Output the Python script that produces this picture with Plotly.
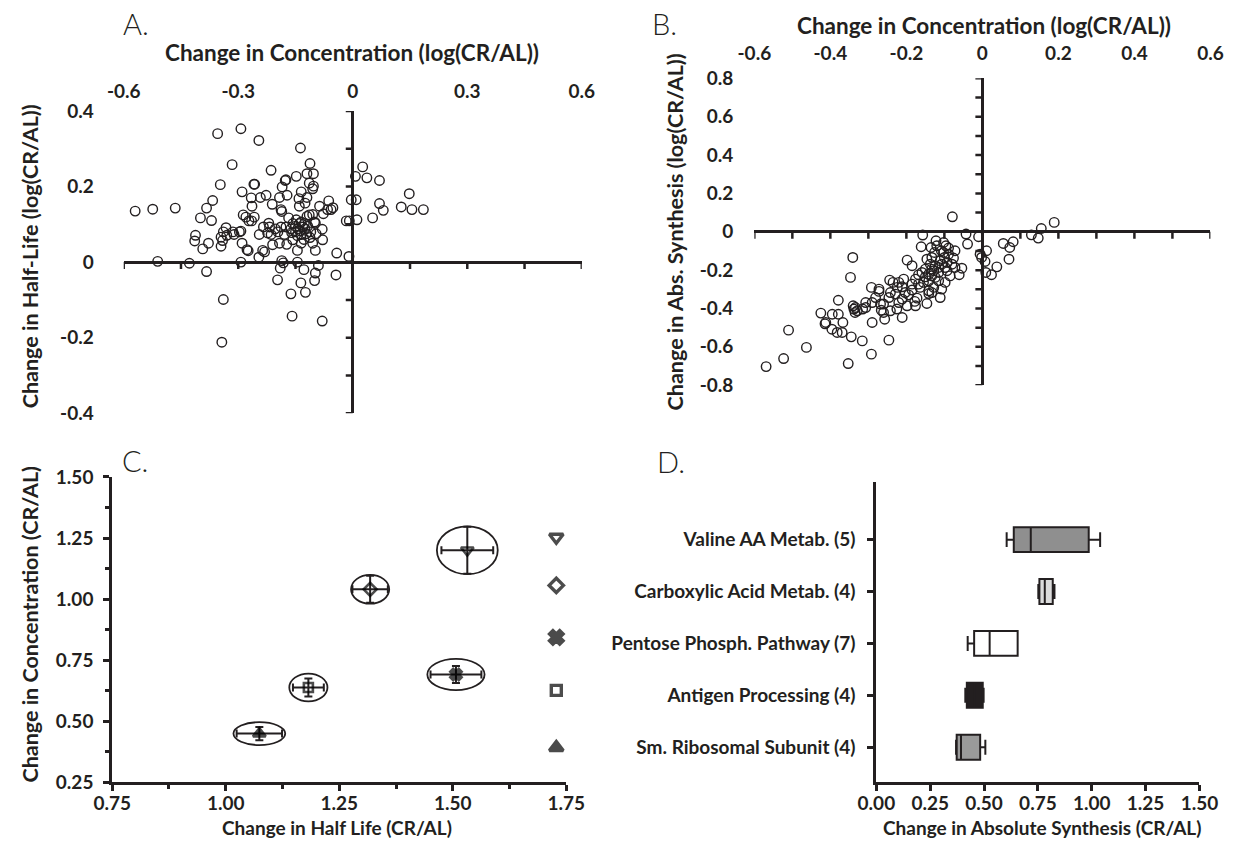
import plotly.graph_objects as go

# ---------------- DATA ----------------
# Panel A: change in concentration vs change in half-life (log CR/AL)
A_conc = [
    -0.354, -0.293, -0.246, -0.137, -0.316, -0.214, -0.112, -0.148, -0.120, -0.103,
    -0.177, -0.175, -0.259, -0.257, -0.347, -0.185, -0.114, -0.103, -0.105, -0.290,
    -0.135, -0.227, -0.172, -0.266, -0.242, -0.192, -0.141, -0.120, -0.367, -0.063,
    -0.004, 0.009, -0.211, -0.140, -0.125, -0.264, -0.087, -0.383, -0.465, -0.524,
    -0.570, -0.188, -0.186, -0.066, -0.052, -0.057, 0.070, 0.080, 0.127, 0.148,
    0.155, 0.185, 0.026, 0.007, 0.037, 0.070, -0.399, -0.370, -0.287, -0.280,
    -0.258, -0.272, -0.265, -0.168, -0.148, -0.135, -0.120, -0.114, -0.105, -0.100,
    -0.077, -0.017, -0.009, 0.011, 0.052, -0.157, -0.140, -0.127, -0.162, -0.144,
    -0.131, -0.118, -0.175, -0.150, -0.135, -0.122, -0.098, -0.080, -0.096, -0.188,
    -0.196, -0.179, -0.203, -0.218, -0.234, -0.220, -0.223, -0.214, -0.245, -0.210,
    -0.192, -0.173, -0.157, -0.135, -0.105, -0.079, -0.145, -0.098, -0.042, -0.010,
    -0.236, -0.231, -0.246, -0.277, -0.274, -0.290, -0.293, -0.297, -0.314, -0.332,
    -0.339, -0.330, -0.345, -0.341, -0.345, -0.311, -0.412, -0.414, -0.393, -0.378,
    -0.150, -0.138, -0.125, -0.110, -0.145, -0.160, -0.112, -0.128, -0.511, -0.428,
    -0.293, -0.186, -0.182, -0.145, -0.090, -0.383, -0.190, -0.128, -0.197, -0.136,
    -0.098, -0.100, -0.044, -0.162, -0.124, -0.339, -0.159, -0.080, -0.343,
]
A_halflife = [
    0.340, 0.353, 0.322, 0.302, 0.258, 0.243, 0.261, 0.227, 0.234, 0.234,
    0.216, 0.218, 0.206, 0.206, 0.205, 0.199, 0.209, 0.201, 0.194, 0.186,
    0.186, 0.177, 0.177, 0.170, 0.171, 0.171, 0.168, 0.171, 0.163, 0.162,
    0.165, 0.165, 0.153, 0.148, 0.156, 0.148, 0.148, 0.143, 0.143, 0.140,
    0.135, 0.139, 0.134, 0.139, 0.144, 0.139, 0.155, 0.137, 0.146, 0.181,
    0.139, 0.139, 0.252, 0.227, 0.223, 0.216, 0.117, 0.110, 0.125, 0.119,
    0.119, 0.109, 0.109, 0.117, 0.112, 0.106, 0.121, 0.125, 0.126, 0.106,
    0.128, 0.109, 0.109, 0.112, 0.117, 0.102, 0.102, 0.102, 0.088, 0.088,
    0.093, 0.095, 0.093, 0.080, 0.073, 0.075, 0.103, 0.087, 0.075, 0.093,
    0.080, 0.073, 0.088, 0.093, 0.093, 0.103, 0.077, 0.073, 0.073, 0.046,
    0.050, 0.047, 0.059, 0.050, 0.050, 0.059, 0.031, 0.031, 0.024, 0.015,
    0.031, 0.027, 0.013, 0.033, 0.030, 0.050, 0.082, 0.080, 0.080, 0.091,
    0.080, 0.071, 0.066, 0.057, 0.042, 0.073, 0.071, 0.056, 0.035, 0.050,
    0.095, 0.083, 0.088, 0.080, 0.070, 0.078, 0.065, 0.060, 0.002, -0.003,
    0.000, 0.004, -0.002, 0.000, -0.009, -0.025, -0.016, -0.020, -0.047, -0.055,
    -0.029, -0.049, -0.034, -0.084, -0.080, -0.099, -0.143, -0.156, -0.212,
]

# Panel B: change in concentration vs change in absolute synthesis (log CR/AL)
B_conc = [
    -0.079, 0.189, 0.155, 0.129, 0.147, 0.055, 0.081, 0.072, 0.070, 0.038,
    0.024, 0.009, 0.011, -0.006, -0.002, 0.007, -0.010, -0.043, -0.039, -0.157,
    -0.161, -0.135, -0.122, -0.102, -0.096, -0.089, -0.126, -0.100, -0.076, -0.146,
    -0.198, -0.185, -0.080, -0.098, -0.054, -0.061, -0.085, -0.115, -0.133, -0.150,
    -0.168, -0.133, -0.141, -0.115, -0.098, -0.176, -0.185, -0.207, -0.220, -0.244,
    -0.235, -0.211, -0.185, -0.164, -0.141, -0.128, -0.107, -0.111, -0.133, -0.141,
    -0.242, -0.229, -0.211, -0.198, -0.176, -0.172, -0.146, -0.292, -0.272, -0.281,
    -0.290, -0.272, -0.268, -0.260, -0.266, -0.260, -0.257, -0.242, -0.225, -0.211,
    -0.290, -0.307, -0.315, -0.329, -0.340, -0.338, -0.335, -0.347, -0.341, -0.379,
    -0.379, -0.395, -0.425, -0.412, -0.414, -0.396, -0.369, -0.382, -0.367, -0.345,
    -0.316, -0.246, -0.292, -0.353, -0.463, -0.510, -0.523, -0.569, -0.159, -0.150,
    -0.137, -0.124, -0.115, -0.124, -0.141, -0.155, -0.168, -0.128, -0.107, -0.093,
    -0.072, -0.111, -0.133, -0.102, -0.089, -0.072, -0.120, -0.108, -0.093, -0.224,
    -0.203, -0.194, -0.178, -0.220, -0.246, -0.307, -0.334,
]
B_synthesis = [
    0.078, 0.049, 0.017, -0.016, -0.033, -0.061, -0.052, -0.082, -0.143, -0.183,
    -0.224, -0.212, -0.099, -0.117, -0.134, -0.155, -0.026, -0.012, -0.064, -0.017,
    -0.078, -0.082, -0.047, -0.056, -0.073, -0.085, -0.108, -0.134, -0.137, -0.143,
    -0.148, -0.177, -0.169, -0.186, -0.190, -0.224, -0.230, -0.212, -0.230, -0.235,
    -0.224, -0.195, -0.256, -0.256, -0.264, -0.247, -0.273, -0.247, -0.264, -0.252,
    -0.264, -0.287, -0.304, -0.290, -0.308, -0.290, -0.299, -0.343, -0.317, -0.322,
    -0.317, -0.325, -0.351, -0.386, -0.386, -0.346, -0.374, -0.290, -0.299, -0.343,
    -0.369, -0.311, -0.377, -0.377, -0.409, -0.421, -0.456, -0.412, -0.403, -0.447,
    -0.473, -0.395, -0.403, -0.412, -0.386, -0.403, -0.421, -0.238, -0.134, -0.357,
    -0.430, -0.430, -0.424, -0.473, -0.480, -0.508, -0.525, -0.525, -0.473, -0.548,
    -0.569, -0.565, -0.638, -0.687, -0.603, -0.513, -0.661, -0.703, -0.212, -0.195,
    -0.169, -0.177, -0.186, -0.238, -0.221, -0.264, -0.273, -0.203, -0.169, -0.203,
    -0.186, -0.151, -0.134, -0.108, -0.117, -0.099, -0.073, -0.099, -0.160, -0.290,
    -0.317, -0.329, -0.363, -0.369, -0.343, -0.369, -0.395,
]

# Panel C: mean change in half-life vs concentration (CR/AL) with SE and ellipses
C_halflife = [1.532, 1.318, 1.507, 1.182, 1.074]
C_conc = [1.200, 1.040, 0.691, 0.638, 0.449]
C_halflife_err = [0.057, 0.039, 0.056, 0.034, 0.050]
C_conc_err = [0.096, 0.055, 0.035, 0.037, 0.027]
C_ellipse_rx = [0.067, 0.042, 0.063, 0.042, 0.057]
C_ellipse_ry = [0.098, 0.059, 0.064, 0.057, 0.047]
C_symbols = ['triangle-down-open', 'diamond-open', 'x', 'square-open', 'triangle-up']
C_key_x = 1.728
C_key_y = [1.253, 1.056, 0.843, 0.626, 0.392]

# Panel D: change in absolute synthesis (CR/AL) per pathway
D_categories = ['Valine AA Metab. (5)', 'Carboxylic Acid Metab. (4)',
                'Pentose Phosph. Pathway (7)', 'Antigen Processing (4)',
                'Sm. Ribosomal Subunit (4)']
D_low = [0.605, 0.752, 0.424, 0.413, 0.370]
D_q1 = [0.638, 0.757, 0.454, 0.420, 0.373]
D_median = [0.717, 0.782, 0.526, 0.455, 0.393]
D_q3 = [0.986, 0.819, 0.656, 0.494, 0.482]
D_high = [1.039, 0.827, 0.656, 0.498, 0.506]
D_fill = ['#8f8f8f', '#dcdcdc', '#ffffff', '#231f20', '#9a9a9a']

# tick values / labels
A_xtick_vals = [-0.6, -0.3, 0, 0.3, 0.6]
A_xtick_text = ['-0.6', '-0.3', '0', '0.3', '0.6']
A_xtick_marks = [-0.6, -0.45, -0.3, -0.15, 0.15, 0.3, 0.45, 0.6]
A_ytick_vals = [-0.4, -0.2, 0, 0.2, 0.4]
A_ytick_text = ['-0.4', '-0.2', '0', '0.2', '0.4']
A_ytick_marks = [-0.4, -0.3, -0.2, -0.1, 0.1, 0.2, 0.3, 0.4]
B_xtick_vals = [-0.6, -0.4, -0.2, 0, 0.2, 0.4, 0.6]
B_xtick_text = ['-0.6', '-0.4', '-0.2', '0', '0.2', '0.4', '0.6']
B_xtick_marks = [-0.6, -0.5, -0.4, -0.3, -0.2, -0.1, 0.1, 0.2, 0.3, 0.4, 0.5, 0.6]
B_ytick_vals = [-0.8, -0.6, -0.4, -0.2, 0, 0.2, 0.4, 0.6, 0.8]
B_ytick_text = ['-0.8', '-0.6', '-0.4', '-0.2', '0', '0.2', '0.4', '0.6', '0.8']
B_ytick_marks = [-0.8, -0.7, -0.6, -0.5, -0.4, -0.3, -0.2, -0.1,
                 0.1, 0.2, 0.3, 0.4, 0.5, 0.6, 0.7, 0.8]
C_xtick_vals = [0.75, 1.00, 1.25, 1.50, 1.75]
C_xtick_text = ['0.75', '1.00', '1.25', '1.50', '1.75']
C_ytick_vals = [0.25, 0.50, 0.75, 1.00, 1.25, 1.50]
C_ytick_text = ['0.25', '0.50', '0.75', '1.00', '1.25', '1.50']
D_xtick_vals = [0, 0.25, 0.5, 0.75, 1.0, 1.25, 1.5]
D_xtick_text = ['0.00', '0.25', '0.50', '0.75', '1.00', '1.25', '1.50']

assert len(A_conc) == len(A_halflife)
assert len(B_conc) == len(B_synthesis)

# ---------------- LAYOUT HELPERS ----------------
W, H = 1233, 845
# the photographed page appears slightly scaled/offset; map target pixel positions
SX, OX = 0.969, 19.8
SY, OY = 0.972, 12.1


def fx(p):
    return ((p - OX) / SX) / W


def fy(p):
    return 1 - ((p - OY) / SY) / H


INK = '#231f20'
FONT = 'Lato, Carlito, Calibri, sans-serif'
tick_font = dict(family=FONT, size=19, color=INK, weight='bold')
cat_font = dict(family=FONT, size=19, color=INK, weight='bold')
title_font = dict(family=FONT, size=22.5, color=INK, weight='bold')
ytitle_font = dict(family=FONT, size=21.5, color=INK, weight='bold')
xtitle_font = dict(family=FONT, size=19, color=INK, weight='bold')
letter_font = dict(family=FONT, size=29, color=INK, weight=300)

fig = go.Figure()

# Panel A
fig.add_trace(go.Scatter(
    x=A_conc, y=A_halflife, mode='markers', xaxis='x', yaxis='y',
    marker=dict(symbol='circle-open', size=9.5, color=INK, line=dict(width=1.4, color=INK)),
    cliponaxis=False, showlegend=False, hoverinfo='x+y'))

# Panel B
fig.add_trace(go.Scatter(
    x=B_conc, y=B_synthesis, mode='markers', xaxis='x2', yaxis='y2',
    marker=dict(symbol='circle-open', size=9.5, color=INK, line=dict(width=1.4, color=INK)),
    cliponaxis=False, showlegend=False, hoverinfo='x+y'))

# Panel C
fig.add_trace(go.Scatter(
    x=C_halflife, y=C_conc, mode='markers', xaxis='x3', yaxis='y3',
    marker=dict(symbol=C_symbols, size=[11, 10, 10, 9, 11], color='#000000',
                line=dict(width=2.6, color='#000000')),
    error_x=dict(type='data', array=C_halflife_err, thickness=2, width=4, color=INK),
    error_y=dict(type='data', array=C_conc_err, thickness=2, width=4, color=INK),
    cliponaxis=False, showlegend=False))
fig.add_trace(go.Scatter(
    x=[C_key_x] * len(C_key_y), y=C_key_y, mode='markers', xaxis='x3', yaxis='y3',
    marker=dict(symbol=C_symbols, size=[12, 11, 12, 10, 12], color='#000000',
                line=dict(width=3.4, color='#000000')),
    cliponaxis=False, showlegend=False, hoverinfo='skip'))

# Panel D
for cat, lo, q1, med, q3, hi, fill in zip(D_categories, D_low, D_q1, D_median, D_q3, D_high, D_fill):
    fig.add_trace(go.Box(
        y=[cat], q1=[q1], median=[med], q3=[q3], lowerfence=[lo], upperfence=[hi],
        orientation='h', xaxis='x4', yaxis='y4', fillcolor=fill,
        line=dict(color=INK, width=2), width=0.48, whiskerwidth=0.6,
        boxpoints=False, showlegend=False))

shapes = []
# cross-axis tick marks for A and B
for v in A_xtick_marks:
    shapes.append(dict(type='line', xref='x', yref='y', x0=v, x1=v, ysizemode='pixel',
                       yanchor=0, y0=0, y1=-7, line=dict(color=INK, width=2.5)))
for v in A_ytick_marks:
    shapes.append(dict(type='line', xref='x', yref='y', y0=v, y1=v, xsizemode='pixel',
                       xanchor=0, x0=-7, x1=0, line=dict(color=INK, width=2.5)))
for v in B_xtick_marks:
    shapes.append(dict(type='line', xref='x2', yref='y2', x0=v, x1=v, ysizemode='pixel',
                       yanchor=0, y0=0, y1=-7, line=dict(color=INK, width=2.5)))
for v in B_ytick_marks:
    shapes.append(dict(type='line', xref='x2', yref='y2', y0=v, y1=v, xsizemode='pixel',
                       xanchor=0, x0=-7, x1=0, line=dict(color=INK, width=2.5)))
# ellipses for panel C
for cx, cy, rx, ry in zip(C_halflife, C_conc, C_ellipse_rx, C_ellipse_ry):
    shapes.append(dict(type='circle', xref='x3', yref='y3', x0=cx - rx, x1=cx + rx,
                       y0=cy - ry, y1=cy + ry, line=dict(color=INK, width=1.8)))

annotations = []


def note(text, px, py, font, angle=0, xanchor='center', yanchor='middle'):
    annotations.append(dict(text=text, x=fx(px), y=fy(py), xref='paper', yref='paper',
                            showarrow=False, font=font, textangle=angle,
                            xanchor=xanchor, yanchor=yanchor))


note('A.', 137, 24, letter_font)
note('B.', 665, 24, letter_font)
note('C.', 136, 460, letter_font)
note('D.', 672, 461, letter_font)
note('Change in Concentration (log(CR/AL))', 353, 53, title_font)
note('Change in Concentration (log(CR/AL))', 985, 26, title_font)
note('Change in Half-Life (log(CR/AL))', 31, 256, ytitle_font, angle=-90)
note('Change in Abs. Synthesis (log(CR/AL))', 676, 232, ytitle_font, angle=-90)
note('Change in Concentration (CR/AL)', 31, 624, ytitle_font, angle=-90)
note('Change in Half Life (CR/AL)', 338, 827, xtitle_font)
note('Change in Absolute Synthesis (CR/AL)', 1043, 827, xtitle_font)

cross_axis = dict(showgrid=False, showline=False, ticks='', zeroline=True,
                  zerolinewidth=3, zerolinecolor=INK, tickfont=tick_font, fixedrange=True)
box_axis = dict(showgrid=False, showline=True, linewidth=3, linecolor=INK, ticks='outside',
                ticklen=6, tickwidth=2.5, tickcolor=INK, zeroline=False, tickfont=tick_font,
                fixedrange=True)

fig.update_layout(
    width=W, height=H,
    margin=dict(l=0, r=0, t=0, b=0),
    paper_bgcolor='white', plot_bgcolor='white',
    showlegend=False,
    boxmode='overlay',
    xaxis=dict(cross_axis, domain=[fx(124.5), fx(582.5)], range=[-0.6, 0.6], side='top',
               tickvals=A_xtick_vals, ticktext=A_xtick_text, anchor='y', ticklabelstandoff=8),
    yaxis=dict(cross_axis, domain=[fy(413), fy(111)], range=[-0.4, 0.4],
               tickvals=A_ytick_vals, ticktext=A_ytick_text, anchor='x', ticklabelstandoff=29),
    xaxis2=dict(cross_axis, domain=[fx(755), fx(1211)], range=[-0.6, 0.6], side='top',
                tickvals=B_xtick_vals, ticktext=B_xtick_text, anchor='y2', ticklabelstandoff=14),
    yaxis2=dict(cross_axis, domain=[fy(385), fy(78.4)], range=[-0.8, 0.8],
                tickvals=B_ytick_vals, ticktext=B_ytick_text, anchor='x2', ticklabelstandoff=20),
    xaxis3=dict(box_axis, domain=[fx(113), fx(567)], range=[0.75, 1.75],
                tickvals=C_xtick_vals, ticktext=C_xtick_text, anchor='y3', ticklabelstandoff=-4,
                minor=dict(ticks='outside', dtick=0.125, tick0=0.75, ticklen=4, tickwidth=2.5,
                           tickcolor=INK, showgrid=False)),
    yaxis3=dict(box_axis, domain=[fy(781.7), fy(476.7)], range=[0.25, 1.5],
                tickvals=C_ytick_vals, ticktext=C_ytick_text, anchor='x3', ticklabelstandoff=6,
                minor=dict(ticks='outside', dtick=0.125, tick0=0.25, ticklen=4, tickwidth=2.5,
                           tickcolor=INK, showgrid=False)),
    xaxis4=dict(box_axis, domain=[fx(877), fx(1200)], range=[0, 1.5],
                tickvals=D_xtick_vals, ticktext=D_xtick_text, anchor='y4', ticklabelstandoff=-4),
    yaxis4=dict(box_axis, domain=[fy(781.7), fy(481.7)], type='category',
                categoryorder='array', categoryarray=D_categories[::-1],
                range=[-0.675, 5.111], anchor='x4', tickfont=cat_font, ticklabelstandoff=8),
    shapes=shapes,
    annotations=annotations,
)

fig.write_html(
    "out.html",
    config={'displayModeBar': False},
    post_script="document.body.style.margin='0';document.body.style.overflow='hidden';",
)
